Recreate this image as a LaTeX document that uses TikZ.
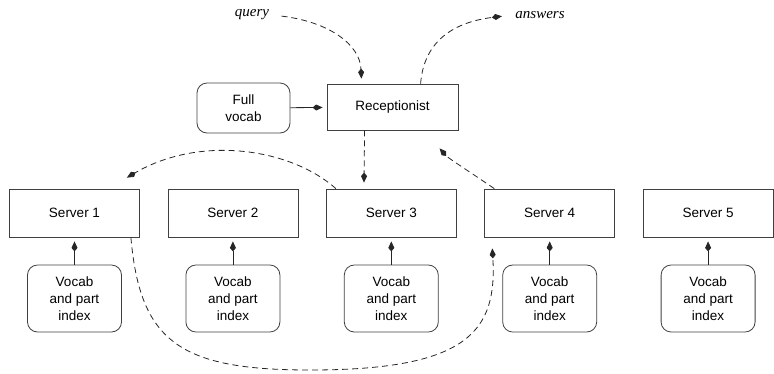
\documentclass[tikz,border=0pt]{standalone}
\usepackage{fontspec}
\setmainfont{Liberation Sans}
\newfontfamily\lblfont{Liberation Serif}
\usetikzlibrary{arrows.meta}
\begin{document}
\begin{tikzpicture}[x=1pt,y=-1pt,
  box/.style={draw=black!75, line width=.8pt, minimum width=130pt, minimum height=48pt, font=\fontsize{13.5}{16}\selectfont},
  idx/.style={draw=black!75, line width=.8pt, rounded corners=10pt, minimum width=94pt, minimum height=67pt, align=center, font=\fontsize{13.5}{17}\selectfont},
  lbl/.style={font=\lblfont\itshape\fontsize{15}{18}\selectfont},
  tip/.style={-{Kite[length=10pt,width=6pt,inset=3.5pt]}, line width=.8pt, black!85},
  dsh/.style={tip, dash pattern=on 6pt off 4pt}]
\useasboundingbox (0,0) rectangle (774,373);
\node[box, minimum width=131pt, minimum height=46pt] (recep) at (392.5,107){Receptionist};
\node[idx, minimum width=93pt, minimum height=50pt] (fullvoc) at (243.5,108){Full\\vocab};
\node[lbl] (query) at (252,15){query};
\node[lbl] (answers) at (540,15){answers};
\foreach \i in {1,...,5}{
  \node[box] (srv\i) at ({74.5+158.4*(\i-1)},213){Server \i};
  \node[idx] (voc\i) at ({74.5+158.4*(\i-1)},298.5){Vocab\\and part\\index};
  \draw[tip, shorten >=4pt] (voc\i) -- (srv\i);
}
\draw[tip, shorten >=4pt] (fullvoc) -- (recep);
% dashed message paths
\draw[dsh, shorten <=9pt, shorten >=5pt] (query.east) .. controls (330,22) and (360,45) .. ([xshift=35pt]recep.north west);
\draw[dsh, shorten >=10pt] ([xshift=94pt]recep.north west) .. controls (424,40) and (455,22) .. (answers.west);
\draw[dsh, shorten >=6pt] ([xshift=38pt]recep.south west) -- ([xshift=38pt]srv3.north west);
\draw[dsh] ([xshift=10pt]srv3.north west) .. controls (290,148) and (200,135) .. ([xshift=-13pt,yshift=11pt]srv1.north east);
\draw[dsh] ([xshift=10pt]srv4.north west) .. controls (470,172) and (448,158) .. ([xshift=113pt,yshift=-18pt]recep.south west);
\draw[dsh] ([xshift=-9pt]srv1.south east) .. controls (140,342) and (180,370) .. (310,370) .. controls (470,370) and (497,330) .. ([xshift=8pt,yshift=-11pt]srv4.south west);
\end{tikzpicture}
\end{document}
